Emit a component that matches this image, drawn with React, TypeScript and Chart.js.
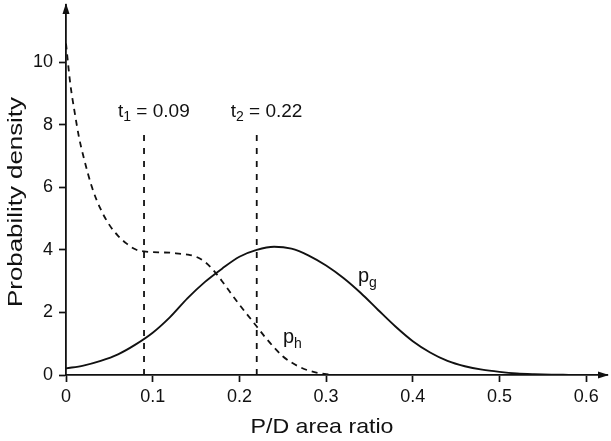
import { useEffect, useRef } from 'react';
import { Chart, registerables } from 'chart.js';

Chart.register(...registerables);

// p_g (solid) curve
const gX = [0, 0.02, 0.04, 0.06, 0.08, 0.1, 0.12, 0.14, 0.16, 0.18, 0.2, 0.22, 0.24, 0.26, 0.28, 0.3, 0.32, 0.34, 0.36, 0.38, 0.4, 0.42, 0.44, 0.46, 0.48, 0.5, 0.52, 0.54, 0.56, 0.58, 0.6];
const gY = [0.21, 0.3, 0.45, 0.66, 0.97, 1.35, 1.85, 2.45, 2.97, 3.4, 3.78, 4.0, 4.1, 4.04, 3.82, 3.5, 3.1, 2.62, 2.08, 1.55, 1.08, 0.72, 0.45, 0.28, 0.17, 0.1, 0.05, 0.025, 0.01, 0.005, 0];

// p_h (dashed) curve
const hX = [0, 0.005, 0.01, 0.015, 0.02, 0.03, 0.04, 0.05, 0.06, 0.07, 0.08, 0.09, 0.1, 0.11, 0.12, 0.13, 0.14, 0.15, 0.16, 0.17, 0.18, 0.19, 0.2, 0.21, 0.22, 0.23, 0.24, 0.25, 0.26, 0.27, 0.28, 0.29, 0.3, 0.31];
const hY = [10.6, 9.3, 8.4, 7.6, 7.0, 6.0, 5.3, 4.8, 4.45, 4.2, 4.02, 3.95, 3.93, 3.92, 3.91, 3.88, 3.85, 3.78, 3.62, 3.35, 3.0, 2.62, 2.25, 1.9, 1.55, 1.2, 0.88, 0.6, 0.4, 0.25, 0.14, 0.07, 0.03, 0];

// thresholds
const tValues = [0.09, 0.22];
const tNames = ['1', '2'];
const tTop = 7.8;

const xTickLabels = ['0', '0.1', '0.2', '0.3', '0.4', '0.5', '0.6'];
const yTickLabels = ['0', '2', '4', '6', '8', '10'];
const xTitle = 'P/D area ratio';
const yTitle = 'Probability density';

const FONT = '"Liberation Sans", Arial, Helvetica, sans-serif';
const INK = '#111111';

function drawStretched(ctx: CanvasRenderingContext2D, text: string, cx: number, cy: number, size: number, targetW: number, rot: number) {
  ctx.save();
  ctx.font = `${size}px ${FONT}`;
  const w = ctx.measureText(text).width;
  ctx.translate(cx, cy);
  ctx.rotate(rot);
  ctx.scale(targetW / w, 1);
  ctx.textAlign = 'center';
  ctx.textBaseline = 'middle';
  ctx.fillText(text, 0, 0);
  ctx.restore();
}

function drawSub(ctx: CanvasRenderingContext2D, main: string, sub: string, rest: string, x: number, base: number, size: number, subSize: number, subDrop: number) {
  ctx.save();
  ctx.textAlign = 'left';
  ctx.textBaseline = 'alphabetic';
  ctx.font = `${size}px ${FONT}`;
  ctx.fillText(main, x, base);
  let cx = x + ctx.measureText(main).width;
  ctx.font = `${subSize}px ${FONT}`;
  ctx.fillText(sub, cx, base + subDrop);
  cx += ctx.measureText(sub).width;
  if (rest) {
    ctx.font = `${size}px ${FONT}`;
    ctx.fillText(rest, cx, base);
  }
  ctx.restore();
}

const decorPlugin = {
  id: 'decor',
  afterDraw(chart: any) {
    const ctx = chart.ctx as CanvasRenderingContext2D;
    const { left, right, top, bottom } = chart.chartArea;
    const xs = chart.scales.x;
    ctx.save();
    ctx.fillStyle = INK;
    // arrowheads
    ctx.beginPath();
    ctx.moveTo(left, top - 2);
    ctx.lineTo(left - 3.5, top + 9);
    ctx.lineTo(left + 3.5, top + 9);
    ctx.closePath();
    ctx.fill();
    ctx.beginPath();
    ctx.moveTo(right + 2, bottom);
    ctx.lineTo(right - 9, bottom - 3.5);
    ctx.lineTo(right - 9, bottom + 3.5);
    ctx.closePath();
    ctx.fill();

    // axis titles
    drawStretched(ctx, xTitle, 322, 427, 21, 143, 0);
    drawStretched(ctx, yTitle, 16.5, 202, 19.5, 210, -Math.PI / 2);

    // threshold labels
    tValues.forEach((t, i) => {
      const px = xs.getPixelForValue(t);
      drawSub(ctx, 't', tNames[i], ' = ' + t.toFixed(2), px - 26, 117, 19, 14, 3.5);
    });

    // curve labels
    drawSub(ctx, 'p', 'g', '', 358, 281.5, 20, 14, 5);
    drawSub(ctx, 'p', 'h', '', 283, 343, 20, 14, 5);
    ctx.restore();
  },
};

export default function App() {
  const ref = useRef<HTMLCanvasElement | null>(null);
  useEffect(() => {
    if (!ref.current) return;
    const lineStyle = {
      borderColor: INK,
      backgroundColor: INK,
      pointRadius: 0,
      fill: false,
    };
    const chart = new Chart(ref.current, {
      type: 'line',
      data: {
        datasets: [
          {
            ...lineStyle,
            label: 'pg',
            data: gX.map((x, i) => ({ x, y: gY[i] })),
            borderWidth: 1.9,
            tension: 0.4,
            cubicInterpolationMode: 'monotone',
          },
          {
            ...lineStyle,
            label: 'ph',
            data: hX.map((x, i) => ({ x, y: hY[i] })),
            borderWidth: 1.8,
            borderDash: [6, 5],
            tension: 0.4,
            cubicInterpolationMode: 'monotone',
          },
          ...tValues.map((t) => ({
            ...lineStyle,
            label: 't' + t,
            data: [{ x: t, y: 0 }, { x: t, y: tTop }],
            borderWidth: 1.8,
            borderDash: [6, 7],
          })),
        ] as any,
      },
      options: {
        animation: false,
        responsive: true,
        maintainAspectRatio: false,
        layout: { autoPadding: false, padding: { top: 5, right: 4, left: 0, bottom: 0 } },
        plugins: { legend: { display: false }, tooltip: { enabled: false } },
        scales: {
          x: {
            type: 'linear',
            min: 0,
            max: 0.624,
            afterFit: (s: any) => { s.height = 66; s.paddingLeft = 0; s.paddingRight = 0; },
            border: { display: true, color: INK, width: 1.8 },
            grid: { display: true, drawOnChartArea: false, drawTicks: true, tickLength: 7, tickColor: INK, tickWidth: 1.7 },
            ticks: {
              stepSize: 0.1,
              includeBounds: false,
              autoSkip: false,
              maxRotation: 0,
              padding: 4,
              color: INK,
              font: { size: 18, family: FONT },
              callback: (_v: any, i: number) => xTickLabels[i],
            },
          },
          y: {
            type: 'linear',
            min: 0,
            max: 11.83,
            afterFit: (s: any) => { s.width = 66; s.paddingTop = 0; s.paddingBottom = 0; },
            border: { display: true, color: INK, width: 1.8 },
            grid: { display: true, drawOnChartArea: false, drawTicks: true, tickLength: 7, tickColor: INK, tickWidth: 1.7 },
            ticks: {
              stepSize: 2,
              includeBounds: false,
              padding: 6,
              color: INK,
              font: { size: 18, family: FONT },
              callback: (_v: any, i: number) => yTickLabels[i],
            },
          },
        },
      } as any,
      plugins: [decorPlugin],
    });
    return () => chart.destroy();
  }, []);
  return (
    <div style={{ position: 'absolute', left: 0, top: 0, width: 611, height: 441, background: '#fff' }}>
      <canvas ref={ref} />
    </div>
  );
}
